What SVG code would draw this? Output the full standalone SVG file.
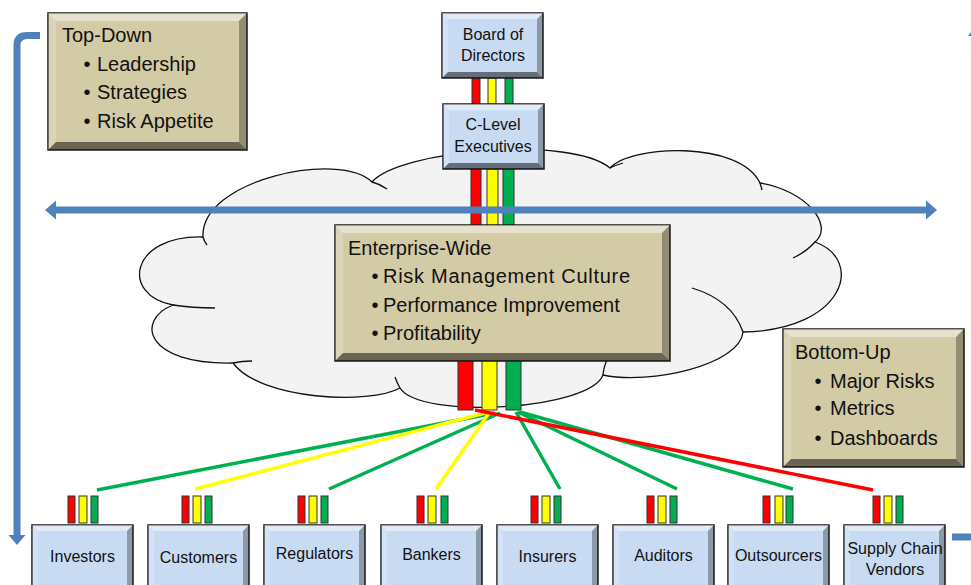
<svg xmlns="http://www.w3.org/2000/svg" width="971" height="585" viewBox="0 0 971 585">
<defs>
<style>
.blue{fill:#C9DBF3;stroke:#1a1a1a;stroke-width:1.5}
.tan{fill:#D3CBA5;stroke:#1a1a1a;stroke-width:1.5}
.hl{fill:#ffffff;opacity:0.45}
.hl2{fill:#ffffff;opacity:0.2}
.sh{fill:#000000;opacity:0.3}
.sh2{fill:#000000;opacity:0.5}
.t{font-family:"Liberation Sans",Arial,sans-serif;fill:#111}
.lbl{font-size:16px;text-anchor:middle}
.big{font-size:20px}
.r{fill:#FF0000;stroke:#333;stroke-width:1}
.y{fill:#FFFF00;stroke:#333;stroke-width:1}
.g{fill:#00B050;stroke:#333;stroke-width:1}
.lg{stroke:#00B050;stroke-width:3.5;fill:none}
.ly{stroke:#FFFF00;stroke-width:3.5;fill:none}
.lr{stroke:#FF0000;stroke-width:3.5;fill:none}
.arr{stroke:#4F81BD;stroke-width:7;fill:none}
.ah{fill:#4F81BD}
.cloud{fill:#F3F3F3;stroke:#111;stroke-width:1.3}
.tick{fill:none;stroke:#111;stroke-width:1.3}
</style>
</defs>

<!-- side arrows -->
<g id="side-arrows">
<path class="arr" d="M40,35.5 H27 Q17,35.5 17,45.5 V536"/>
<polygon class="ah" points="8.5,535 25.5,535 17,545"/>
<path class="arr" d="M952,537 H970 Q977,537 977,530 V36"/>
<polygon class="ah" points="968,36 986,36 977,24"/>
</g>

<!-- cloud -->
<g id="cloud">
<path class="cloud" d="M203,237 C200,180 340,150 372,182 C400,150 570,135 610,168 C630,145 740,140 760,183 C805,190 835,225 815,242 C865,260 845,330 743,332 C740,365 650,385 603,375 C590,410 420,420 400,388 C370,405 260,400 233,363 C145,365 135,320 173,305 C120,295 130,235 203,237 Z"/>
<path class="tick" d="M203,237 Q204,241 207,245"/>
<path class="tick" d="M372,182 Q380,184 387,189"/>
<path class="tick" d="M610,168 Q616,165 623,163"/>
<path class="tick" d="M760,183 Q761,186 762,190"/>
<path class="tick" d="M815,242 Q806,252 793,258"/>
<path class="tick" d="M743,332 Q732,300 692,288"/>
<path class="tick" d="M603,375 Q604,366 607,360"/>
<path class="tick" d="M400,388 Q397,383 395,377"/>
<path class="tick" d="M233,363 Q242,361 252,361"/>
<path class="tick" d="M173,305 Q192,308 215,308"/>
</g>

<!-- connectors -->
<g id="connectors">
<rect class="r" x="472" y="78" width="8" height="26"/>
<rect class="y" x="488" y="78" width="8" height="26"/>
<rect class="g" x="505" y="78" width="8" height="26"/>
<rect class="r" x="471" y="169" width="10" height="57"/>
<rect class="y" x="487" y="169" width="11" height="57"/>
<rect class="g" x="503" y="169" width="11" height="57"/>
<rect class="r" x="458" y="360" width="15" height="50"/>
<rect class="y" x="482" y="360" width="15" height="50"/>
<rect class="g" x="506" y="360" width="15" height="50"/>
<line class="lg" x1="495" y1="413" x2="97" y2="490"/>
<line class="ly" x1="485" y1="413" x2="195" y2="489"/>
<line class="lg" x1="500" y1="413" x2="329" y2="489"/>
<line class="ly" x1="489" y1="413" x2="436" y2="489"/>
<line class="lg" x1="516" y1="412" x2="560" y2="489"/>
<line class="lg" x1="518" y1="412" x2="677" y2="489"/>
<line class="lg" x1="520" y1="412" x2="793" y2="489"/>
<line class="lr" x1="475" y1="410" x2="873" y2="490"/>
<line class="arr" x1="53" y1="210" x2="929" y2="210"/>
<polygon class="ah" points="56,200.5 45,210 56,219.5"/>
<polygon class="ah" points="926,200.5 937,210 926,219.5"/>
</g>

<g id="top-down">
<rect class="tan" x="48" y="13" width="199" height="137"/>
<polygon class="hl" points="48,13 247,13 239,21 56,21"/>
<polygon class="hl2" points="48,13 56,21 56,142 48,150"/>
<polygon class="sh" points="247,13 247,150 239,142 239,21"/>
<polygon class="sh2" points="48,150 56,142 239,142 247,150"/>
<text class="t big" x="62" y="42">Top-Down</text>
<text class="t big" x="83.5" y="71">•</text><text class="t big" x="97" y="71">Leadership</text>
<text class="t big" x="83.5" y="99">•</text><text class="t big" x="97" y="99">Strategies</text>
<text class="t big" x="83.5" y="128">•</text><text class="t big" x="97" y="128">Risk Appetite</text>
</g>

<g id="board">
<rect class="blue" x="442" y="13" width="101" height="65"/>
<polygon class="hl" points="442,13 543,13 537,19 448,19"/>
<polygon class="hl2" points="442,13 448,19 448,72 442,78"/>
<polygon class="sh" points="543,13 543,78 537,72 537,19"/>
<polygon class="sh2" points="442,78 448,72 537,72 543,78"/>
<text class="t lbl" x="493" y="40">Board of</text>
<text class="t lbl" x="493" y="61">Directors</text>
</g>

<g id="clevel">
<rect class="blue" x="443" y="104" width="101" height="65"/>
<polygon class="hl" points="443,104 544,104 538,110 449,110"/>
<polygon class="hl2" points="443,104 449,110 449,163 443,169"/>
<polygon class="sh" points="544,104 544,169 538,163 538,110"/>
<polygon class="sh2" points="443,169 449,163 538,163 544,169"/>
<text class="t lbl" x="493" y="130">C-Level</text>
<text class="t lbl" x="493" y="152">Executives</text>
</g>

<g id="enterprise">
<rect class="tan" x="335" y="225" width="335" height="136"/>
<polygon class="hl" points="335,225 670,225 662,233 343,233"/>
<polygon class="hl2" points="335,225 343,233 343,353 335,361"/>
<polygon class="sh" points="670,225 670,361 662,353 662,233"/>
<polygon class="sh2" points="335,361 343,353 662,353 670,361"/>
<text class="t big" x="348" y="255">Enterprise-Wide</text>
<text class="t big" x="371.5" y="283">•</text><text class="t big" x="383" y="283" textLength="247">Risk Management Culture</text>
<text class="t big" x="371.5" y="312">•</text><text class="t big" x="383" y="312">Performance Improvement</text>
<text class="t big" x="371.5" y="340">•</text><text class="t big" x="383" y="340">Profitability</text>
</g>

<g id="bottom-up">
<rect class="tan" x="783" y="329" width="181" height="138"/>
<polygon class="hl" points="783,329 964,329 956,337 791,337"/>
<polygon class="hl2" points="783,329 791,337 791,459 783,467"/>
<polygon class="sh" points="964,329 964,467 956,459 956,337"/>
<polygon class="sh2" points="783,467 791,459 956,459 964,467"/>
<text class="t big" x="795" y="359">Bottom-Up</text>
<text class="t big" x="814.5" y="388">•</text><text class="t big" x="830" y="388">Major Risks</text>
<text class="t big" x="814.5" y="415">•</text><text class="t big" x="830" y="415">Metrics</text>
<text class="t big" x="814.5" y="445">•</text><text class="t big" x="830" y="445">Dashboards</text>
</g>

<g id="investors">
<rect class="r" x="68" y="496" width="7" height="27"/><rect class="y" x="79" y="496" width="8" height="27"/><rect class="g" x="91" y="496" width="7" height="27"/>
<rect class="blue" x="32" y="525" width="101" height="65"/>
<polygon class="hl" points="32,525 133,525 127,531 38,531"/>
<polygon class="hl2" points="32,525 38,531 38,590 32,590"/>
<polygon class="sh" points="133,525 133,590 127,590 127,531"/>
<text class="t lbl" x="82.5" y="562">Investors</text>
</g>

<g id="customers">
<rect class="r" x="182" y="496" width="7" height="27"/><rect class="y" x="193" y="496" width="8" height="27"/><rect class="g" x="205" y="496" width="7" height="27"/>
<rect class="blue" x="148" y="525" width="101" height="65"/>
<polygon class="hl" points="148,525 249,525 243,531 154,531"/>
<polygon class="hl2" points="148,525 154,531 154,590 148,590"/>
<polygon class="sh" points="249,525 249,590 243,590 243,531"/>
<text class="t lbl" x="198.5" y="563">Customers</text>
</g>

<g id="regulators">
<rect class="r" x="298" y="496" width="7" height="27"/><rect class="y" x="309" y="496" width="8" height="27"/><rect class="g" x="321" y="496" width="7" height="27"/>
<rect class="blue" x="264" y="525" width="101" height="65"/>
<polygon class="hl" points="264,525 365,525 359,531 270,531"/>
<polygon class="hl2" points="264,525 270,531 270,590 264,590"/>
<polygon class="sh" points="365,525 365,590 359,590 359,531"/>
<text class="t lbl" x="314.5" y="559">Regulators</text>
</g>

<g id="bankers">
<rect class="r" x="417" y="496" width="7" height="27"/><rect class="y" x="428" y="496" width="8" height="27"/><rect class="g" x="441" y="496" width="7" height="27"/>
<rect class="blue" x="381" y="525" width="101" height="65"/>
<polygon class="hl" points="381,525 482,525 476,531 387,531"/>
<polygon class="hl2" points="381,525 387,531 387,590 381,590"/>
<polygon class="sh" points="482,525 482,590 476,590 476,531"/>
<text class="t lbl" x="431.5" y="560">Bankers</text>
</g>

<g id="insurers">
<rect class="r" x="531" y="496" width="7" height="27"/><rect class="y" x="542" y="496" width="8" height="27"/><rect class="g" x="554" y="496" width="7" height="27"/>
<rect class="blue" x="497" y="525" width="101" height="65"/>
<polygon class="hl" points="497,525 598,525 592,531 503,531"/>
<polygon class="hl2" points="497,525 503,531 503,590 497,590"/>
<polygon class="sh" points="598,525 598,590 592,590 592,531"/>
<text class="t lbl" x="547.5" y="562">Insurers</text>
</g>

<g id="auditors">
<rect class="r" x="647" y="496" width="7" height="27"/><rect class="y" x="658" y="496" width="8" height="27"/><rect class="g" x="670" y="496" width="7" height="27"/>
<rect class="blue" x="613" y="525" width="101" height="65"/>
<polygon class="hl" points="613,525 714,525 708,531 619,531"/>
<polygon class="hl2" points="613,525 619,531 619,590 613,590"/>
<polygon class="sh" points="714,525 714,590 708,590 708,531"/>
<text class="t lbl" x="663.5" y="561">Auditors</text>
</g>

<g id="outsourcers">
<rect class="r" x="763" y="496" width="7" height="27"/><rect class="y" x="775" y="496" width="8" height="27"/><rect class="g" x="786" y="496" width="7" height="27"/>
<rect class="blue" x="728" y="525" width="101" height="65"/>
<polygon class="hl" points="728,525 829,525 823,531 734,531"/>
<polygon class="hl2" points="728,525 734,531 734,590 728,590"/>
<polygon class="sh" points="829,525 829,590 823,590 823,531"/>
<text class="t lbl" x="778.5" y="561">Outsourcers</text>
</g>

<g id="supply-chain">
<rect class="r" x="873" y="496" width="7" height="27"/><rect class="y" x="884" y="496" width="8" height="27"/><rect class="g" x="896" y="496" width="7" height="27"/>
<rect class="blue" x="844" y="525" width="101" height="65"/>
<polygon class="hl" points="844,525 945,525 939,531 850,531"/>
<polygon class="hl2" points="844,525 850,531 850,590 844,590"/>
<polygon class="sh" points="945,525 945,590 939,590 939,531"/>
<text class="t lbl" x="895" y="554" font-size="15.5">Supply Chain</text>
<text class="t lbl" x="895" y="575">Vendors</text>
</g>
</svg>
